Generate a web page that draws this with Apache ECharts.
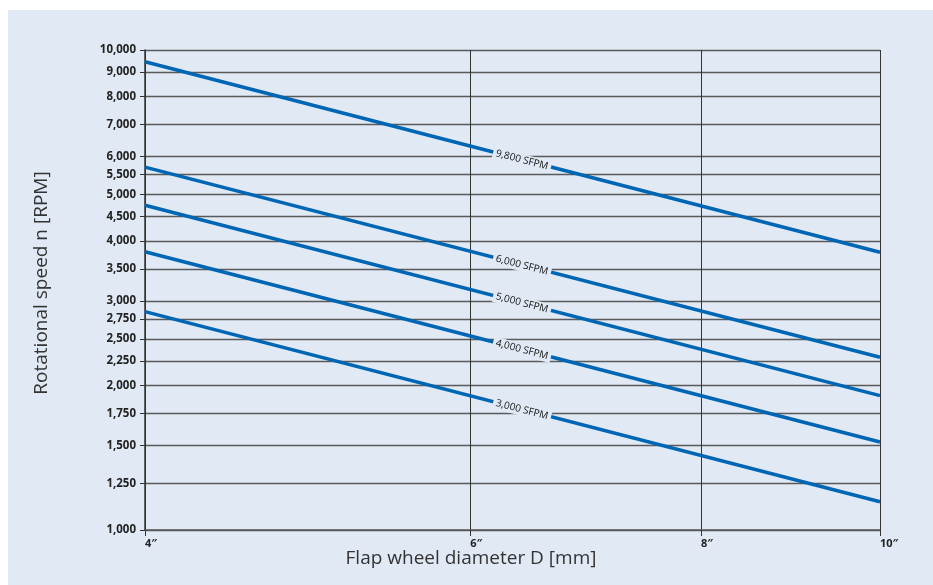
<!DOCTYPE html>
<html>
<head>
<meta charset="utf-8">
<script src="https://cdn.jsdelivr.net/npm/echarts@6/dist/echarts.min.js"></script>
<style>
  html, body { margin: 0; padding: 0; background: #ffffff; }
  #panel { position: absolute; left: 8px; top: 10px; right: 0; bottom: 0; background: #e1e9f4; }
  #chart { position: absolute; left: 0; top: 0; width: 933px; height: 585px; }
</style>
</head>
<body>
<div id="panel"></div>
<div id="chart"></div>
<script>
// Diameters (inches) at the line ends
const diameters = [4, 10];
// Rotational speed [RPM] at 4" and 10" for each surface speed
const rpm9800 = [9450, 3790];
const rpm6000 = [5700, 2290];
const rpm5000 = [4750, 1905];
const rpm4000 = [3800, 1525];
const rpm3000 = [2850, 1145];
const seriesNames = ['9,800 SFPM', '6,000 SFPM', '5,000 SFPM', '4,000 SFPM', '3,000 SFPM'];
// Label anchor: diameter and the RPM of each line there
const labelDiameter = 6.4;
const labelRpm = [5900, 3560, 2970, 2375, 1780];
// Tick values / labels
const xTicks = [4, 6, 8, 10];
const xTickLabels = ['4″', '6″', '8″', '10″'];
const yTicks = [1000, 1250, 1500, 1750, 2000, 2250, 2500, 2750, 3000, 3500, 4000, 4500, 5000, 5500, 6000, 7000, 8000, 9000, 10000];
const xTitle = 'Flap wheel diameter D [mm]';
const yTitle = 'Rotational speed n [RPM]';

const allRpm = [rpm9800, rpm6000, rpm5000, rpm4000, rpm3000];
const chart = echarts.init(document.getElementById('chart'), null, { renderer: 'canvas' });

const lineSeries = allRpm.map((vals, i) => ({
  name: seriesNames[i],
  type: 'line',
  data: diameters.map((d, k) => [d, vals[k]]),
  showSymbol: false,
  symbol: 'none',
  lineStyle: { color: '#0066b3', width: 3.5 },
  z: 3,
  silent: true
}));

const labelSeries = {
  type: 'scatter',
  data: labelRpm.map((v, i) => ({ value: [labelDiameter, v], name: seriesNames[i] })),
  symbol: 'circle',
  symbolSize: 0.5,
  itemStyle: { color: '#e1e9f4', opacity: 1 },
  z: 6,
  silent: true,
  label: {
    show: true,
    position: 'inside',
    formatter: p => p.name,
    rotate: -14.5,
    fontFamily: 'Open Sans',
    fontSize: 10,
    color: '#111111',
    opacity: 1,
    backgroundColor: '#e1e9f4',
    padding: [1, 3]
  }
};

chart.setOption({
  animation: false,
  backgroundColor: 'transparent',
  textStyle: { fontFamily: 'Open Sans' },
  grid: { left: 145, right: 53, top: 50, height: 480, containLabel: false },
  graphic: [
    {
      type: 'text',
      x: 471, y: 559,
      style: { text: xTitle, fontFamily: 'Open Sans', fontSize: 19, fill: '#333333', align: 'center', verticalAlign: 'middle' }
    },
    {
      type: 'text',
      x: 42, y: 283,
      rotation: Math.PI / 2,
      style: { text: yTitle, fontFamily: 'Open Sans', fontSize: 19, fill: '#333333', align: 'center', verticalAlign: 'middle' }
    }
  ],
  xAxis: {
    type: 'log',
    logBase: 10,
    min: 4,
    max: 10,
    axisLine: { show: true, lineStyle: { color: '#5a5a5a', width: 1.5 } },
    axisTick: { show: true, customValues: xTicks, length: 6, lineStyle: { color: '#333333', width: 1 } },
    axisLabel: {
      customValues: xTicks,
      formatter: v => xTickLabels[xTicks.indexOf(Math.round(v))] || '',
      align: 'left',
      margin: 8,
      fontFamily: 'Open Sans',
      fontWeight: 'bold',
      fontSize: 11,
      color: '#222222'
    },
    splitLine: { show: true, lineStyle: { color: '#333333', width: 1 } }
  },
  yAxis: {
    type: 'log',
    logBase: 10,
    min: 1000,
    max: 10000,
    axisLine: { show: true, lineStyle: { color: '#333333', width: 1.5 } },
    axisTick: { show: true, customValues: yTicks, length: 5, lineStyle: { color: '#333333', width: 1 } },
    axisLabel: {
      customValues: yTicks,
      formatter: v => Math.round(v).toLocaleString('en-US'),
      margin: 9,
      fontFamily: 'Open Sans',
      fontWeight: 'bold',
      fontSize: 11.5,
      color: '#222222'
    },
    splitLine: { show: true, lineStyle: { color: '#5a5a5a', width: 1.4 } }
  },
  series: [...lineSeries, labelSeries]
});
</script>
</body>
</html>
